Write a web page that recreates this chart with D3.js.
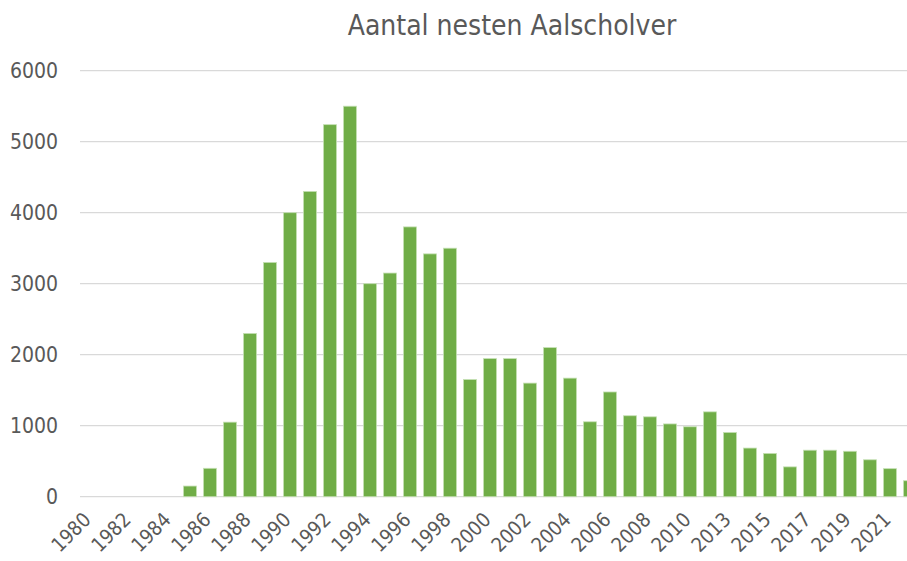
<!DOCTYPE html>
<html>
<head>
<meta charset="utf-8">
<script src="https://cdn.jsdelivr.net/npm/d3@7"></script>
<style>
  html, body { margin: 0; padding: 0; background: #fff; }
  svg { display: block; }
</style>
</head>
<body>
<svg id="chart" width="907" height="561"></svg>
<script>
const title = "Aantal nesten Aalscholver";
const years = ["1980","1981","1982","1983","1984","1985","1986","1987","1988","1989",
  "1990","1991","1992","1993","1994","1995","1996","1997","1998","1999",
  "2000","2001","2002","2003","2004","2005","2006","2007","2008","2009",
  "2010","2011","2013","2014","2015","2016","2017","2018","2019","2020",
  "2021","2022"];
const nests = [0,0,0,0,0,150,400,1050,2300,3300,
  4000,4300,5240,5500,3000,3150,3800,3420,3500,1650,
  1945,1945,1600,2100,1670,1055,1475,1140,1125,1025,
  985,1195,905,685,610,420,655,655,640,520,
  395,225];
const shownLabels = ["1980","1982","1984","1986","1988","1990","1992","1994","1996","1998",
  "2000","2002","2004","2006","2008","2010","2013","2015","2017","2019","2021"];
const yTicks = [0,1000,2000,3000,4000,5000,6000];

const font = "'DejaVu Sans Condensed', 'DejaVu Sans', sans-serif";
const svg = d3.select("#chart");

const x = d3.scaleBand().domain(years).range([80, 920]).paddingInner(0.35).paddingOuter(0.175);
const y = d3.scaleLinear().domain([0, 6000]).range([496.7, 70.7]);

// gridlines
svg.append("g").selectAll("line").data(yTicks).join("line")
  .attr("x1", 80).attr("x2", 920)
  .attr("y1", d => y(d)).attr("y2", d => y(d))
  .attr("stroke", "#d9d9d9").attr("stroke-width", 1.3);

// y labels
svg.append("g").selectAll("text").data(yTicks).join("text")
  .attr("x", 58).attr("y", d => y(d))
  .attr("dy", "0.36em")
  .attr("text-anchor", "end")
  .attr("font-family", font).attr("font-size", 21)
  .attr("fill", "#595959")
  .text(d => d);

// bars
svg.append("g").selectAll("rect").data(years.map((yr, i) => ({yr, v: nests[i]})).filter(d => d.v > 0)).join("rect")
  .attr("x", d => x(d.yr)).attr("width", x.bandwidth())
  .attr("y", d => y(d.v)).attr("height", d => y(0) - y(d.v))
  .attr("fill", "#70ad47")
  .attr("stroke", "#c5e0b4").attr("stroke-width", 0.8);

// x labels
svg.append("g").selectAll("text").data(shownLabels).join("text")
  .attr("transform", d => `translate(${x(d) + x.bandwidth()/2 + 2},${521}) rotate(-45)`)
  .attr("text-anchor", "end")
  .attr("font-family", font).attr("font-size", 20)
  .attr("fill", "#595959")
  .text(d => d);

// title
svg.append("text")
  .attr("x", 512).attr("y", 35)
  .attr("text-anchor", "middle")
  .attr("font-family", font).attr("font-size", 28)
  .attr("fill", "#595959")
  .text(title);
</script>
</body>
</html>
